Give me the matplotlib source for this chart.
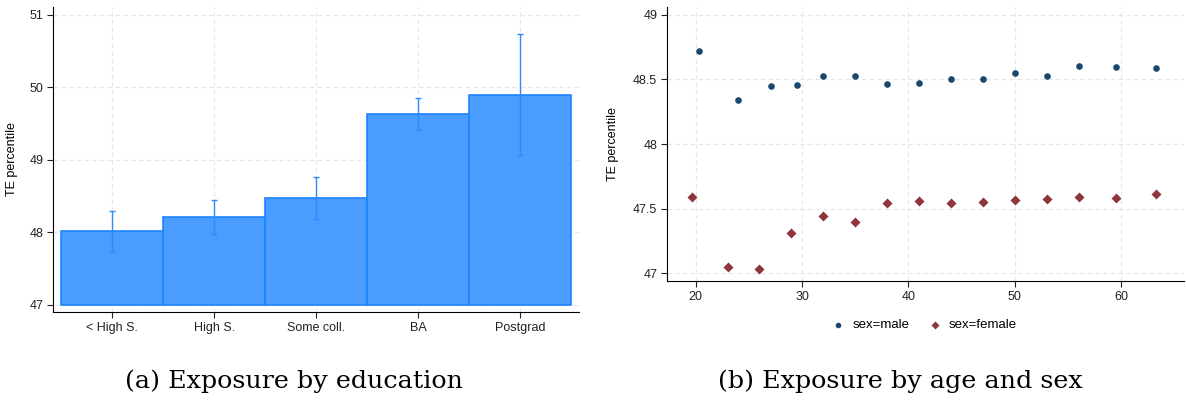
import matplotlib
matplotlib.use("Agg")
import matplotlib.pyplot as plt
import numpy as np

# data
edu_labels = ["< High S.", "High S.", "Some coll.", "BA", "Postgrad"]
edu_mean = [48.02, 48.21, 48.48, 49.63, 49.90]
edu_lo = [47.73, 47.97, 48.19, 49.41, 49.07]
edu_hi = [48.30, 48.44, 48.77, 49.86, 50.74]

male_age = [20.3, 24.0, 27.1, 29.5, 32.0, 35.0, 38.0, 41.0, 44.0, 47.0, 50.0, 53.0, 56.0, 59.5, 63.3]
male_te = [48.72, 48.34, 48.45, 48.46, 48.53, 48.525, 48.465, 48.475, 48.505, 48.505, 48.55, 48.53, 48.60, 48.595, 48.585]
female_age = [19.7, 23.0, 26.0, 29.0, 32.0, 35.0, 38.0, 41.0, 44.0, 47.0, 50.0, 53.0, 56.0, 59.5, 63.3]
female_te = [47.59, 47.05, 47.03, 47.31, 47.44, 47.40, 47.54, 47.56, 47.54, 47.55, 47.57, 47.575, 47.59, 47.58, 47.615]

plt.rcParams['font.family'] = ['Liberation Sans', 'DejaVu Sans']

W, H = 1186, 401
fig = plt.figure(figsize=(W / 100, H / 100), dpi=100)

def box(x0, y0, x1, y1):
    return [x0 / W, 1 - y1 / H, (x1 - x0) / W, (y1 - y0) / H]

def style(ax):
    for s in ["top", "right"]:
        ax.spines[s].set_visible(False)
    for s in ["left", "bottom"]:
        ax.spines[s].set_color("black")
        ax.spines[s].set_linewidth(0.8)
    ax.tick_params(labelsize=9, length=4, width=0.8, colors="#222222", pad=3)
    ax.grid(True, color="#e6e6e6", linestyle=(0, (4, 3)), linewidth=0.8)
    ax.set_axisbelow(True)

# (a) education
ax1 = fig.add_axes(box(53, 7, 579, 312))
style(ax1)
x = np.arange(1, len(edu_labels) + 1)
ax1.bar(x, np.array(edu_mean) - 47, bottom=47, width=1.0, color="#4a9cff",
        edgecolor="#1c84ff", linewidth=1.2)
ax1.errorbar(x, edu_mean, yerr=[np.array(edu_mean) - edu_lo, np.array(edu_hi) - edu_mean],
             fmt="none", ecolor="#2a8cff", elinewidth=1.0, capsize=2, capthick=1.0)
ax1.set_xlim(0.422, 5.575)
ax1.set_ylim(46.9, 51.11)
ax1.set_xticks(x)
ax1.set_xticklabels(edu_labels)
ax1.set_yticks([47, 48, 49, 50, 51])
ax1.set_ylabel("TE percentile", fontsize=9, labelpad=8)

# (b) age and sex
ax2 = fig.add_axes(box(667, 7, 1184, 281))
style(ax2)
ax2.scatter(male_age, male_te, s=14, marker="o", color="#1a476f", label="sex=male", zorder=3)
ax2.scatter(female_age, female_te, s=26, marker="D", color="#90353b", label="sex=female", zorder=3,
            linewidths=0)
ax2.set_xlim(17.31, 65.9)
ax2.set_ylim(46.94, 49.06)
ax2.set_xticks([20, 30, 40, 50, 60])
ax2.set_yticks([47, 47.5, 48, 48.5, 49])
ax2.set_yticklabels(["47", "47.5", "48", "48.5", "49"])
ax2.set_ylabel("TE percentile", fontsize=9, labelpad=10)
fig.legend(*ax2.get_legend_handles_labels(), loc="center", bbox_to_anchor=(921 / W, 1 - 325 / H),
           ncol=2, frameon=False, fontsize=9.5, handletextpad=0.1, columnspacing=0.9,
           markerscale=0.8)

# captions
fig.text(294 / W, 1 - 381 / H, "(a) Exposure by education", ha="center", va="center",
         fontsize=18.3, family="DejaVu Serif")
fig.text(900 / W, 1 - 381 / H, "(b) Exposure by age and sex", ha="center", va="center",
         fontsize=18.3, family="DejaVu Serif")

fig.savefig("out.png", dpi=100)
